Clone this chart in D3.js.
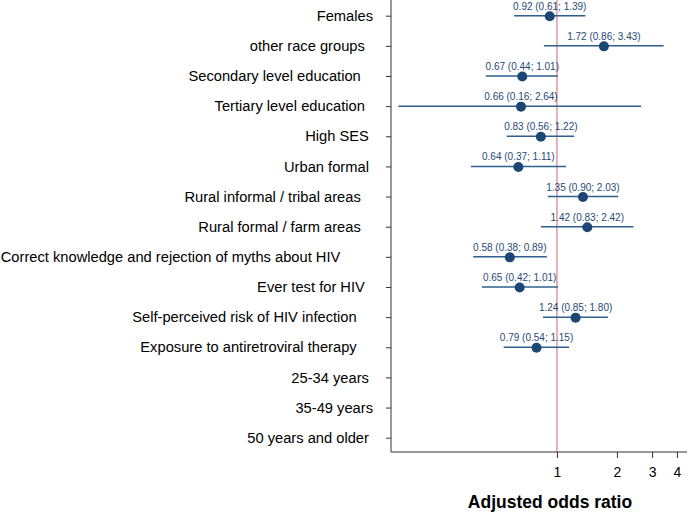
<!DOCTYPE html>
<html><head><meta charset="utf-8">
<script src="https://cdn.jsdelivr.net/npm/d3@7/dist/d3.min.js"></script>
<style>
html,body{margin:0;padding:0;background:#fff;}
svg{display:block;font-family:"Liberation Sans",Arial,sans-serif;}
</style></head>
<body>
<script>
// Data (trailing spaces in labels reproduce original label alignment)
const categories = [
  "Females",
  "other race groups  ",
  "Secondary level education   ",
  "Tertiary level education  ",
  "High SES ",
  "Urban formal ",
  "Rural informal / tribal areas   ",
  "Rural formal / farm areas   ",
  "Correct knowledge and rejection of myths about HIV        ",
  "Ever test for HIV  ",
  "Self-perceived risk of HIV infection    ",
  "Exposure to antiretroviral therapy    ",
  "25-34 years ",
  "35-49 years",
  "50 years and older "
];
const oddsRatio = [0.92, 1.72, 0.67, 0.66, 0.83, 0.64, 1.35, 1.42, 0.58, 0.65, 1.24, 0.79, null, null, null];
const ciLower   = [0.61, 0.86, 0.44, 0.16, 0.56, 0.37, 0.90, 0.83, 0.38, 0.42, 0.85, 0.54, null, null, null];
const ciUpper   = [1.39, 3.43, 1.01, 2.64, 1.22, 1.11, 2.03, 2.42, 0.89, 1.01, 1.80, 1.15, null, null, null];
const xTicks = [1, 2, 3, 4];

(function () {
const W = 688, H = 514;
const mLeft = 391, mRight = 686, mTop = 0, mBottom = 452;

const svg = d3.select("body").append("svg").attr("width", W).attr("height", H);

const x = d3.scaleLog().domain([0.147, 4.44]).range([mLeft, mRight]);
const y = d3.scalePoint().domain(categories).range([15.7, 437.7]);

const ptColor = "#1c4673";
const lineColor = "#2f5f8c";

// reference line
svg.append("line").attr("x1", x(1)).attr("x2", x(1)).attr("y1", mTop).attr("y2", mBottom)
  .attr("stroke", "#cc6677").attr("stroke-width", 1);

// Y axis
const yAxis = svg.append("g").attr("transform", `translate(${mLeft},0)`)
  .call(d3.axisLeft(y).tickSize(5).tickPadding(13));
yAxis.select(".domain").attr("d", `M0,${mTop}V${mBottom}`).attr("stroke", "#333");
yAxis.selectAll(".tick line").attr("stroke", "#333");
yAxis.selectAll(".tick text").attr("font-size", "14.7px").attr("fill", "#000")
  .style("white-space", "pre").attr("font-family", "Liberation Sans, Arial, sans-serif");

// X axis
const xAxis = svg.append("g").attr("transform", `translate(0,${mBottom})`)
  .call(d3.axisBottom(x).tickValues(xTicks).tickFormat(d3.format("d")).tickSize(6).tickPadding(9));
xAxis.select(".domain").attr("d", `M${mLeft},0H${mRight + 1}`).attr("stroke", "#333");
xAxis.selectAll(".tick line").attr("stroke", "#333");
xAxis.selectAll(".tick text").attr("font-size", "14px").attr("fill", "#000")
  .attr("font-family", "Liberation Sans, Arial, sans-serif");

svg.append("text").attr("x", 550).attr("y", 508).attr("text-anchor", "middle")
  .attr("font-size", "17.5px").attr("font-weight", "bold").text("Adjusted odds ratio");

const rows = categories.map((c, i) => ({c, or: oddsRatio[i], lo: ciLower[i], hi: ciUpper[i]}))
  .filter(d => d.or !== null);

const g = svg.append("g");
g.selectAll("line.ci").data(rows).enter().append("line").attr("class", "ci")
  .attr("x1", d => x(d.lo)).attr("x2", d => x(d.hi))
  .attr("y1", d => y(d.c)).attr("y2", d => y(d.c))
  .attr("stroke", lineColor).attr("stroke-width", 1.5);
g.selectAll("circle").data(rows).enter().append("circle")
  .attr("cx", d => x(d.or)).attr("cy", d => y(d.c) + 0.5).attr("r", 5)
  .attr("fill", ptColor);
g.selectAll("text.val").data(rows).enter().append("text").attr("class", "val")
  .attr("x", d => x(d.or)).attr("y", d => y(d.c) - 6).attr("text-anchor", "middle")
  .attr("font-size", "10px").attr("fill", "#1f4a78")
  .text(d => `${d.or.toFixed(2)} (${d.lo.toFixed(2)}; ${d.hi.toFixed(2)})`);
})();
</script>
</body></html>
